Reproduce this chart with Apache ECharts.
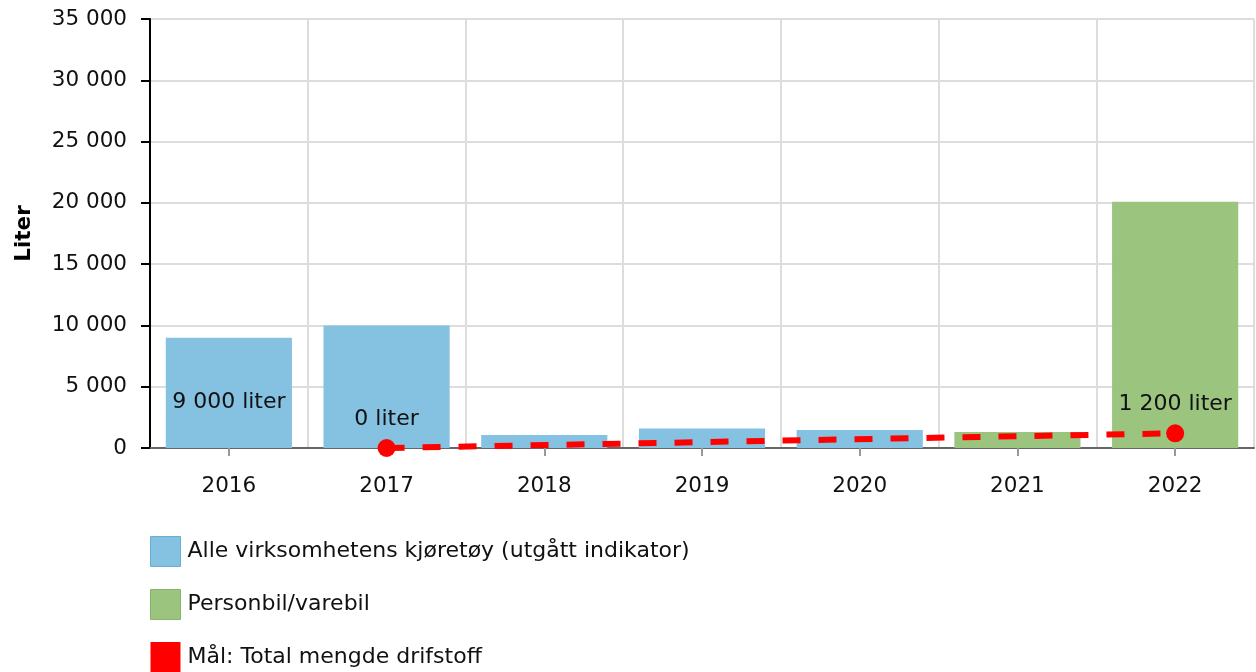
<!DOCTYPE html>
<html>
<head>
<meta charset="utf-8">
<script src="https://cdn.jsdelivr.net/npm/echarts@6/dist/echarts.min.js"></script>
<style>
  html, body { margin: 0; padding: 0; background: #fff; }
  #chart { width: 1256px; height: 672px; }
</style>
</head>
<body>
<div id="chart"></div>
<script>
const years = ['2016', '2017', '2018', '2019', '2020', '2021', '2022']
const alleKjoretoy = [9000, 10000, 1060, 1600, 1470, '-', '-']
const personbil = ['-', '-', '-', '-', '-', 1300, 20100]
const maal = ['-', 0, '-', '-', '-', '-', 1200]
const seriesNames = [
  'Alle virksomhetens kjøretøy (utgått indikator)',
  'Personbil/varebil',
  'Mål: Total mengde drifstoff'
]

const font = 'DejaVu Sans'
const fmt = v => String(v).replace(/\B(?=(\d{3})+(?!\d))/g, ' ')

const chart = echarts.init(document.getElementById('chart'))

chart.setOption({
  animation: false,
  backgroundColor: '#fff',
  textStyle: { fontFamily: font },
  grid: { left: 150, right: 2, top: 19, bottom: 224, outerBoundsMode: 'none', containLabel: false },
  legend: {
    orient: 'vertical',
    left: 150,
    top: 536,
    padding: 0,
    itemWidth: 30,
    itemHeight: 30,
    itemGap: 22,
    textStyle: { fontFamily: font, fontSize: 22, color: '#111', padding: [0, 0, 0, 2] },
    data: [
      { name: seriesNames[0], icon: 'rect', itemStyle: { color: '#85c1e1', borderColor: '#6aaed6', borderWidth: 1 } },
      { name: seriesNames[1], icon: 'rect', itemStyle: { color: '#9bc47f', borderColor: '#86b56a', borderWidth: 1 } },
      { name: seriesNames[2], icon: 'rect', itemStyle: { color: '#ff0000' } }
    ]
  },
  xAxis: {
    type: 'category',
    data: years,
    boundaryGap: true,
    axisLine: { lineStyle: { color: '#666', width: 2 } },
    axisTick: { show: true, alignWithLabel: true, length: 8, lineStyle: { color: '#999', width: 2 } },
    axisLabel: { color: '#111', fontSize: 21.5, fontFamily: font, margin: 27 },
    splitLine: { show: true, lineStyle: { color: '#ddd', width: 2 } }
  },
  yAxis: {
    type: 'value',
    min: 0,
    max: 35000,
    interval: 5000,
    name: 'Liter',
    nameLocation: 'middle',
    nameGap: 115,
    nameRotate: 90,
    nameTextStyle: { fontFamily: font, fontSize: 21.5, fontWeight: 'bold', color: '#000' },
    axisLine: { show: true, lineStyle: { color: '#000', width: 2 } },
    axisTick: { show: true, length: 9, lineStyle: { color: '#000', width: 2 } },
    axisLabel: { color: '#111', fontSize: 21.5, fontFamily: font, margin: 23, formatter: fmt },
    splitLine: { show: true, lineStyle: { color: '#ddd', width: 2 } }
  },
  series: [
    {
      name: seriesNames[0],
      type: 'bar',
      stack: 'total',
      barWidth: '80%',
      itemStyle: { color: '#85c1e1' },
      data: alleKjoretoy.map((v, i) => i === 0 ? {
        value: v,
        label: {
          show: true,
          position: 'inside',
          offset: [0, 9],
          formatter: p => fmt(p.value) + ' liter',
          fontFamily: font,
          fontSize: 22,
          color: '#111'
        }
      } : v)
    },
    {
      name: seriesNames[1],
      type: 'bar',
      stack: 'total',
      barWidth: '80%',
      itemStyle: { color: '#9bc47f' },
      data: personbil
    },
    {
      name: seriesNames[2],
      type: 'line',
      connectNulls: true,
      symbol: 'circle',
      symbolSize: 18,
      itemStyle: { color: '#ff0000' },
      lineStyle: { color: '#ff0000', width: 6, type: [18, 18] },
      label: {
        show: true,
        position: 'top',
        distance: 9,
        formatter: p => fmt(p.value) + ' liter',
        fontFamily: font,
        fontSize: 22,
        color: '#111'
      },
      z: 5,
      data: maal
    }
  ]
})
</script>
</body>
</html>
